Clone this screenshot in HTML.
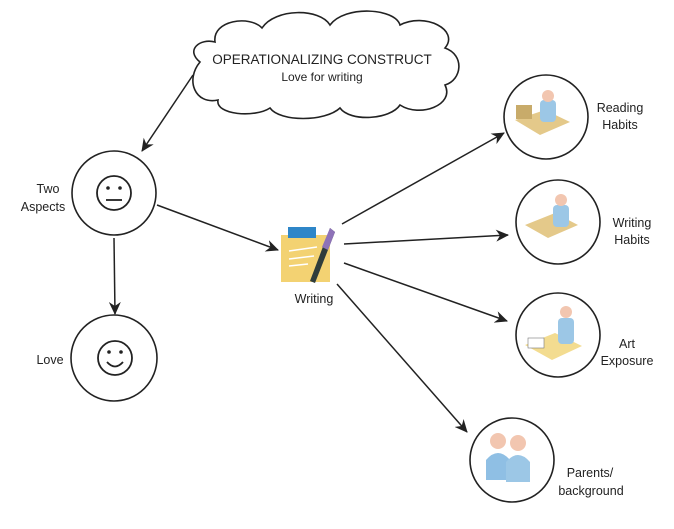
<!DOCTYPE html>
<html><head><meta charset="utf-8"><style>
html,body{margin:0;padding:0;background:#fff;}
svg{display:block;font-family:"Liberation Sans",sans-serif;}
</style></head><body>
<svg width="674" height="529" viewBox="0 0 674 529" xmlns="http://www.w3.org/2000/svg">
<defs><marker id="a" markerWidth="13" markerHeight="12" refX="12" refY="6" orient="auto" markerUnits="userSpaceOnUse"><path d="M0,0 L13,6 L0,12 L4,6 z" fill="#222"/></marker></defs>
<path d="M200,62 C185,50 200,38 215,42 C212,20 250,15 262,28 C275,8 320,8 330,25 C345,5 395,8 400,25 C425,12 460,30 445,48 C465,55 462,80 445,85 C455,105 420,118 400,105 C390,120 350,122 340,108 C325,122 280,122 270,108 C255,118 215,115 218,100 C195,105 185,80 200,62 Z" fill="#fff" stroke="#222" stroke-width="1.6"/>
<text x="322" y="64" font-size="13.5" text-anchor="middle" fill="#222">OPERATIONALIZING CONSTRUCT</text>
<text x="322" y="81" font-size="12" text-anchor="middle" fill="#222">Love for writing</text>
<g stroke="#222" stroke-width="1.5" fill="none">
<line x1="193" y1="75" x2="142" y2="151" marker-end="url(#a)"/>
<line x1="157" y1="205" x2="278" y2="250" marker-end="url(#a)"/>
<line x1="114" y1="238" x2="115" y2="314" marker-end="url(#a)"/>
<line x1="342" y1="224" x2="504" y2="133" marker-end="url(#a)"/>
<line x1="344" y1="244" x2="508" y2="235" marker-end="url(#a)"/>
<line x1="344" y1="263" x2="507" y2="321" marker-end="url(#a)"/>
<line x1="337" y1="284" x2="467" y2="432" marker-end="url(#a)"/>
</g>
<circle cx="114" cy="193" r="42" fill="#fff" stroke="#222" stroke-width="1.6"/>
<circle cx="114" cy="193" r="17" fill="none" stroke="#222" stroke-width="1.8"/>
<circle cx="108" cy="188" r="1.8" fill="#222"/><circle cx="120" cy="188" r="1.8" fill="#222"/>
<line x1="106" y1="200" x2="122" y2="200" stroke="#222" stroke-width="1.8"/>
<circle cx="114" cy="358" r="43" fill="#fff" stroke="#222" stroke-width="1.6"/>
<circle cx="115" cy="358" r="17" fill="none" stroke="#222" stroke-width="1.8"/>
<circle cx="109" cy="352" r="1.8" fill="#222"/><circle cx="121" cy="352" r="1.8" fill="#222"/>
<path d="M107,362 Q115,371 123,362" fill="none" stroke="#222" stroke-width="1.8"/>
<text x="48" y="193" font-size="12.5" text-anchor="middle" fill="#222">Two</text>
<text x="43" y="211" font-size="12.5" text-anchor="middle" fill="#222">Aspects</text>
<text x="50" y="364" font-size="12.5" text-anchor="middle" fill="#222">Love</text>
<rect x="281" y="235" width="49" height="47" fill="#f3d272"/>
<rect x="288" y="227" width="28" height="11" fill="#2e86c8"/>
<g stroke="#fff" stroke-width="1.5"><line x1="289" y1="251" x2="317" y2="247"/><line x1="289" y1="259" x2="314" y2="256"/><line x1="289" y1="266" x2="308" y2="264"/></g>
<path d="M330,228 L335,232 L315,283 L310,281 Z" fill="#2f3d3b"/>
<path d="M330,228 L335,232 L328,250 L322,247 Z" fill="#8e72b8"/>
<text x="314" y="303" font-size="12.5" text-anchor="middle" fill="#222">Writing</text>
<g fill="#fff" stroke="#222" stroke-width="1.6">
<circle cx="546" cy="117" r="42"/><circle cx="558" cy="222" r="42"/><circle cx="558" cy="335" r="42"/><circle cx="512" cy="460" r="42"/>
</g>
<g>
<path d="M515,120 L545,110 L570,122 L540,135 Z" fill="#e4c98a"/>
<rect x="516" y="105" width="16" height="14" fill="#c8ab6a"/>
<rect x="540" y="100" width="16" height="22" rx="4" fill="#9cc7e6"/><circle cx="548" cy="96" r="6" fill="#f2c6b0"/>
<path d="M525,225 L555,213 L578,225 L548,238 Z" fill="#e4c98a"/>
<rect x="553" y="205" width="16" height="22" rx="4" fill="#9cc7e6"/><circle cx="561" cy="200" r="6" fill="#f2c6b0"/>
<path d="M525,345 L555,333 L582,346 L552,360 Z" fill="#f3dc90"/>
<rect x="528" y="338" width="16" height="10" fill="#fff" stroke="#777" stroke-width=".6"/>
<rect x="558" y="318" width="16" height="26" rx="4" fill="#9cc7e6"/><circle cx="566" cy="312" r="6" fill="#f2c6b0"/>
<path d="M486,480 L486,460 Q498,446 510,460 L510,480 Z" fill="#8fbfe4"/><circle cx="498" cy="441" r="8" fill="#f2c6b0"/>
<path d="M506,482 L506,462 Q518,448 530,462 L530,482 Z" fill="#9cc7e6"/><circle cx="518" cy="443" r="8" fill="#f2c6b0"/>
</g>
<g font-size="12.5" fill="#222" text-anchor="middle">
<text x="620" y="112">Reading</text><text x="620" y="129">Habits</text>
<text x="632" y="227">Writing</text><text x="632" y="244">Habits</text>
<text x="627" y="348">Art</text><text x="627" y="365">Exposure</text>
<text x="590" y="477">Parents/</text><text x="591" y="495">background</text>
</g>
</svg>
</body></html>
